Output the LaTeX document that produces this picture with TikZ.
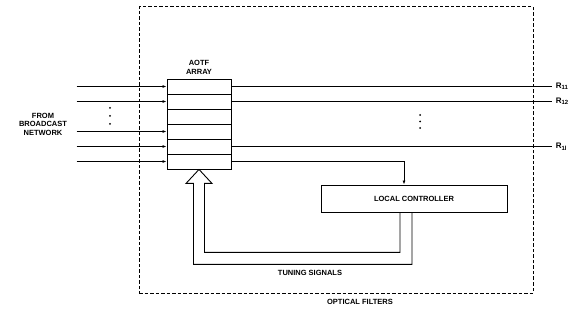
\documentclass[tikz,border=0pt]{standalone}
\usepackage{fontspec}
\setmainfont{Liberation Sans}
\usepackage{tikz}
\usetikzlibrary{arrows.meta, positioning}

\begin{document}
\begin{tikzpicture}[
    x=1pt, y=-1pt,
    font=\bfseries\fontsize{7.5}{8.5}\selectfont,
    cell/.style={draw, line width=0.9pt, minimum width=64pt, minimum height=15pt, inner sep=0pt},
    lbl/.style={align=center, inner sep=1pt},
    sig/.style={line width=1pt},
    ar/.style={sig, -{Latex[length=4pt, width=3pt]}},
    frame/.style={draw, line width=1pt, dash pattern=on 3.5pt off 2pt, minimum width=394pt, minimum height=286pt, inner sep=0pt}
  ]
    \useasboundingbox (0,0) rectangle (570,320);
    \node[frame] (filt) at (336,150) {};
    \node[lbl, below=5pt of filt.south, xshift=24pt] {OPTICAL FILTERS};
    % AOTF array cells
    \foreach \i in {1,...,6}
      \node[cell] (row\i) at (199,{71.5+15*\i}) {};
    \node[lbl, above=3pt of row1] {AOTF\\ARRAY};
    \node[lbl] (src) at (43,124) {FROM\\BROADCAST\\NETWORK};
    \node[draw, line width=0.9pt, minimum width=186pt, minimum height=27pt] (ctrl) at (414,198.5) {LOCAL CONTROLLER};
    % inputs
    \foreach \i in {1,2,4,5,6}
      \draw[ar] ([xshift=-90pt]row\i.west) -- (row\i.west);
    \foreach \y in {108,116,124}
      \fill (110,\y) circle (1pt);
    % outputs
    \coordinate (rx) at (552,0);
    \draw[sig] (row1.east) -- (row1.east -| rx) node[right, font=\bfseries\fontsize{8}{9}\selectfont] {R\textsubscript{11}};
    \draw[sig] (row2.east) -- (row2.east -| rx) node[right, font=\bfseries\fontsize{8}{9}\selectfont] {R\textsubscript{12}};
    \draw[sig] (row5.east) -- (row5.east -| rx) node[right, font=\bfseries\fontsize{8}{9}\selectfont] {R\textsubscript{1l}};
    \foreach \y in {115,121.5,128}
      \fill (420,\y) circle (1pt);
    \draw[ar] (row6.east) -| ([xshift=-10pt]ctrl.north);
    % tuning signals
    \draw[line width=0.9pt] ([xshift=-14pt]ctrl.south) -- ++(0,40)
      -| ([xshift=5.5pt, yshift=-14pt]row6.south) -- ++(7.5,0) -- (row6.south)
      -- ++(-13,14) -- ++(7.5,0)
      |- ([xshift=-2pt, yshift=-52pt]ctrl.south) -- ([xshift=-2pt]ctrl.south);
    \node[lbl] (tun) at (310,273) {TUNING SIGNALS};
  \end{tikzpicture}
\end{document}
